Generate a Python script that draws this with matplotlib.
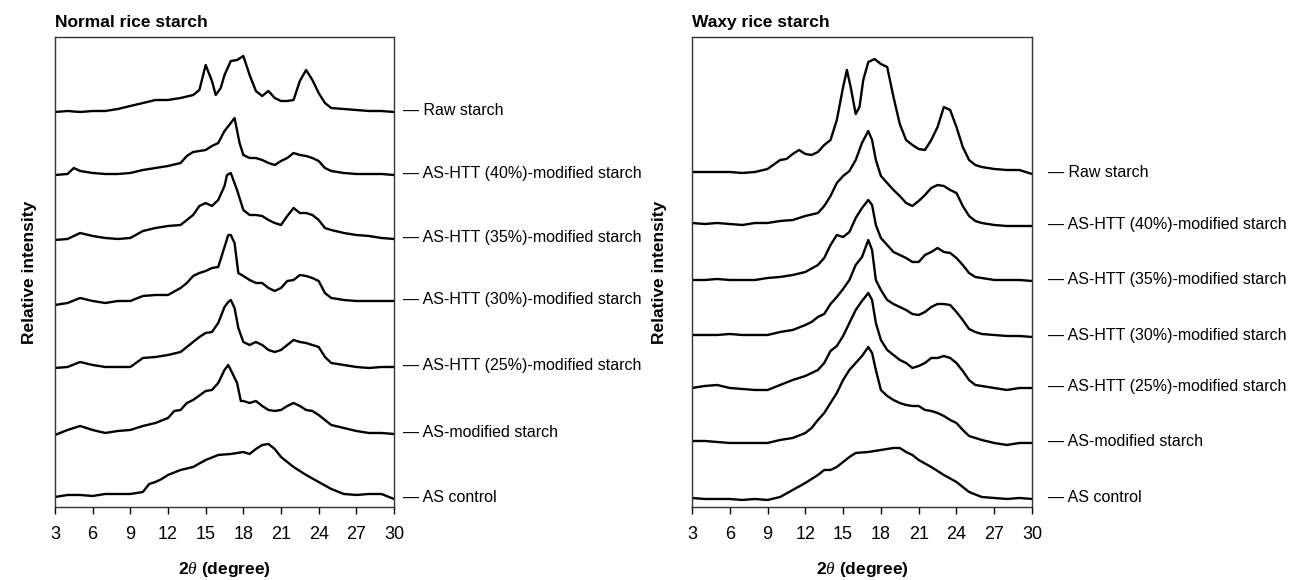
import matplotlib
matplotlib.use("Agg")
import matplotlib.pyplot as plt
import matplotlib.transforms as mtransforms

plt.rcParams['font.family'] = ['Liberation Sans', 'DejaVu Sans']
plt.rcParams['mathtext.fontset'] = 'custom'
plt.rcParams['mathtext.it'] = 'Liberation Serif:italic'

## Data: (2theta, height above own baseline)
labels = ['Raw starch', 'AS-HTT (40%)-modified starch', 'AS-HTT (35%)-modified starch',
          'AS-HTT (30%)-modified starch', 'AS-HTT (25%)-modified starch',
          'AS-modified starch', 'AS control']

# Normal rice starch
normal_raw = [(3,0),(4,1),(5,0),(6,1),(7,1),(8,3),(9,6),(10,9),(11,12),(12,12),(13,14),(14,17),
              (14.5,22),(15,47),(15.5,31),(15.8,17),(16.2,24),(16.5,37),(17,51),(17.5,52),(18,56),
              (18.5,37),(19,21),(19.5,16),(20,21),(20.5,14),(21,11),(21.5,11),(22,12),(22.5,31),
              (23,42),(23.5,32),(24,19),(24.5,9),(25,4),(26,3),(27,2),(28,1),(29,1),(30,0)]
normal_40 = [(3,-1),(4,0),(4.5,6),(5,3),(6,1),(7,0),(8,0),(9,1),(10,4),(11,6),(12,8),(13,11),
             (13.5,18),(14,22),(15,24),(15.5,28),(16,31),(16.5,43),(17,51),(17.3,56),(17.7,31),
             (18,19),(18.5,16),(19,16),(19.5,14),(20,11),(20.5,9),(21,13),(21.5,16),(22,21),
             (22.5,19),(23,18),(23.5,16),(24,13),(24.5,6),(25,3),(26,1),(27,0),(28,0),(29,0),(30,-1)]
normal_35 = [(3,-1),(4,0),(5,6),(6,3),(7,1),(8,0),(9,1),(10,8),(11,11),(12,13),(13,14),(14,24),
             (14.5,33),(15,36),(15.5,33),(16,39),(16.5,53),(16.7,64),(17,66),(17.5,49),(18,29),
             (18.5,24),(19,24),(19.5,23),(20,19),(20.5,16),(21,14),(21.5,23),(22,31),(22.5,26),
             (23,26),(23.5,24),(24,19),(24.5,11),(25,9),(26,6),(27,4),(28,3),(29,1),(30,0)]
normal_30 = [(3,-3),(4,-1),(5,4),(6,1),(7,-1),(8,1),(9,1),(10,6),(11,7),(12,7),(13,14),(13.5,19),
             (14,26),(14.5,29),(15,31),(15.5,34),(16,35),(16.5,55),(16.8,67),(17,67),(17.3,59),
             (17.6,29),(18,26),(18.5,22),(19,19),(19.5,19),(20,14),(20.5,11),(21,14),(21.5,21),
             (22,22),(22.5,27),(23,26),(23.5,24),(24,21),(24.5,9),(25,4),(26,2),(27,1),(28,1),
             (29,1),(30,1)]
normal_25 = [(3,-1),(4,0),(5,5),(6,2),(7,0),(8,0),(9,0),(10,9),(11,10),(12,12),(13,15),(14,25),
             (14.5,30),(15,34),(15.5,35),(16,44),(16.5,60),(16.8,65),(17,67),(17.3,59),(17.6,39),
             (18,25),(18.5,22),(19,25),(19.5,22),(20,17),(20.5,15),(21,17),(21.5,22),(22,27),
             (22.5,25),(23,24),(23.5,22),(24,20),(24.5,10),(25,4),(26,2),(27,0),(28,-1),(29,0),(30,0)]
normal_as = [(3,-2),(4,3),(5,7),(6,3),(7,0),(8,2),(9,3),(10,7),(11,10),(12,15),(12.5,22),(13,23),
             (13.5,30),(14,33),(15,42),(15.5,43),(16,50),(16.5,63),(16.8,68),(17,63),(17.5,50),
             (17.8,32),(18,32),(18.5,30),(19,32),(19.5,27),(20,23),(20.5,22),(21,23),(21.5,27),
             (22,30),(22.5,27),(23,23),(23.5,22),(24,18),(24.5,13),(25,8),(26,5),(27,2),(28,0),
             (29,0),(30,-1)]
normal_ctrl = [(3,0),(4,2),(5,2),(6,1),(7,3),(8,3),(9,3),(10,5),(10.5,13),(11,15),(11.5,18),(12,22),
               (13,27),(14,30),(15,37),(16,42),(17,43),(18,45),(18.5,43),(19,48),(19.5,52),(20,53),
               (20.5,48),(21,40),(21.5,35),(22,30),(23,22),(24,15),(25,8),(26,3),(27,2),(28,3),
               (29,3),(30,-2)]
normal_offsets = [395, 333, 268, 205, 140, 74, 10]

# Waxy rice starch
waxy_raw = [(3,0),(4,0),(5,0),(6,0),(7,-1),(8,0),(9,3),(10,12),(10.5,13),(11,18),(11.5,22),(12,18),
            (12.5,17),(13,20),(13.5,27),(14,32),(14.5,52),(15,85),(15.3,102),(15.6,85),(16,58),
            (16.3,65),(16.6,92),(17,110),(17.5,113),(18,108),(18.5,105),(19,75),(19.5,48),(20,32),
            (20.5,27),(21,23),(21.5,22),(22,32),(22.5,45),(23,65),(23.5,62),(24,45),(24.5,25),
            (25,12),(25.5,7),(26,5),(27,3),(28,2),(29,2),(30,-2)]
waxy_40 = [(3,1),(4,0),(5,1),(6,0),(7,-1),(8,1),(9,1),(10,3),(11,4),(12,8),(13,11),(13.5,18),
           (14,28),(14.5,41),(15,48),(15.5,53),(16,64),(16.5,81),(17,93),(17.3,84),(17.6,64),
           (18,48),(18.5,41),(19,34),(19.5,28),(20,21),(20.5,18),(21,23),(21.5,29),(22,36),
           (22.5,39),(23,38),(23.5,34),(24,31),(24.5,18),(25,8),(25.5,3),(26,1),(27,-1),(28,-2),
           (29,-2),(30,-2)]
waxy_35 = [(3,0),(4,0),(5,1),(6,0),(7,0),(8,0),(9,2),(10,3),(11,5),(12,8),(13,15),(13.5,22),
           (14,35),(14.5,45),(15,43),(15.5,48),(16,62),(16.5,72),(17,80),(17.3,75),(17.6,55),
           (18,42),(18.5,35),(19,28),(19.5,25),(20,22),(20.5,18),(21,18),(21.5,25),(22,28),
           (22.5,32),(23,28),(23.5,27),(24,22),(24.5,15),(25,7),(25.5,3),(26,2),(27,0),(28,0),
           (29,0),(30,-1)]
waxy_30 = [(3,1),(4,1),(5,1),(6,2),(7,1),(8,1),(9,1),(10,4),(11,6),(12,11),(12.5,14),(13,19),
           (13.5,22),(14,32),(14.5,39),(15,47),(15.5,56),(16,71),(16.5,79),(17,96),(17.3,86),
           (17.6,56),(18,46),(18.5,36),(19,32),(19.5,29),(20,26),(20.5,22),(21,21),(21.5,24),
           (22,29),(22.5,32),(23,32),(23.5,31),(24,24),(24.5,16),(25,7),(25.5,4),(26,2),(27,1),
           (28,0),(29,0),(30,-1)]
waxy_25 = [(3,0),(4,2),(5,3),(6,0),(7,-1),(8,-2),(9,-2),(10,3),(11,8),(11.5,10),(12,12),(12.5,15),
           (13,18),(13.5,25),(14,37),(14.5,42),(15,52),(15.5,65),(16,78),(16.5,87),(17,95),
           (17.3,88),(17.6,65),(18,48),(18.5,38),(19,33),(19.5,28),(20,25),(20.5,20),(21,22),
           (21.5,25),(22,30),(22.5,30),(23,32),(23.5,30),(24,25),(24.5,17),(25,8),(25.5,3),(26,2),
           (27,0),(28,-2),(29,0),(30,0)]
waxy_as = [(3,2),(4,2),(5,1),(6,0),(7,0),(8,0),(9,0),(10,3),(11,5),(12,10),(12.5,15),(13,23),
           (13.5,30),(14,40),(14.5,50),(15,63),(15.5,73),(16,80),(16.5,87),(17,96),(17.3,90),
           (17.6,73),(18,53),(18.5,47),(19,43),(19.5,40),(20,38),(20.5,37),(21,37),(21.5,33),
           (22,32),(22.5,30),(23,27),(23.5,23),(24,20),(24.5,13),(25,7),(25.5,5),(26,3),(27,0),
           (28,-2),(29,0),(30,0)]
waxy_ctrl = [(3,1),(4,0),(5,0),(6,0),(7,-1),(8,0),(9,-1),(10,2),(11,9),(12,16),(13,24),(13.5,29),
             (14,29),(14.5,32),(15,37),(15.5,42),(16,46),(17,47),(18,49),(19,51),(19.5,51),(20,47),
             (20.5,44),(21,39),(22,32),(23,24),(24,17),(24.5,12),(25,7),(26,2),(27,1),(28,0),
             (29,1),(30,0)]
waxy_offsets = [335, 283, 227, 171, 119, 64, 8]

panels = [
    ('Normal rice starch', [normal_raw, normal_40, normal_35, normal_30, normal_25, normal_as, normal_ctrl], normal_offsets),
    ('Waxy rice starch', [waxy_raw, waxy_40, waxy_35, waxy_30, waxy_25, waxy_as, waxy_ctrl], waxy_offsets),
]

fig = plt.figure(figsize=(12.91, 5.80), dpi=100)
axes = [fig.add_axes([0.0426, 0.1259, 0.2626, 0.8103]),
        fig.add_axes([0.5360, 0.1259, 0.2634, 0.8103])]
label_x = [1.027, 1.047]
ylab_x = [-0.053, -0.072]

for ax, (title, traces, offsets), lx, yx in zip(axes, panels, label_x, ylab_x):
    for tr, off, lab in zip(traces, offsets, labels):
        xs = [p[0] for p in tr]
        ys = [p[1] + off for p in tr]
        ax.plot(xs, ys, color='black', lw=1.7)
        trans = mtransforms.blended_transform_factory(ax.transAxes, ax.transData)
        ax.text(lx, ys[-1] + 1, '\u2014 ' + lab, transform=trans, fontsize=11.5,
                va='center', ha='left')
    ax.set_xlim(3, 30)
    ax.set_ylim(0, 470)
    ax.set_xticks(range(3, 31, 3))
    ax.set_yticks([])
    ax.tick_params(axis='x', direction='out', length=5, width=1, labelsize=13, pad=9)
    for s in ax.spines.values():
        s.set_color('#333333')
        s.set_linewidth(1)
    ax.set_title(title, loc='left', fontsize=12.5, fontweight='bold', pad=7)
    ax.set_xlabel(r'2$\mathit{\theta}$ (degree)', fontsize=12.5, fontweight='bold')
    ax.xaxis.set_label_coords(0.5, -0.112)
    ax.set_ylabel('Relative intensity', fontsize=12.5, fontweight='bold')
    ax.yaxis.set_label_coords(yx, 0.5)

fig.savefig('out.png', dpi=100)
